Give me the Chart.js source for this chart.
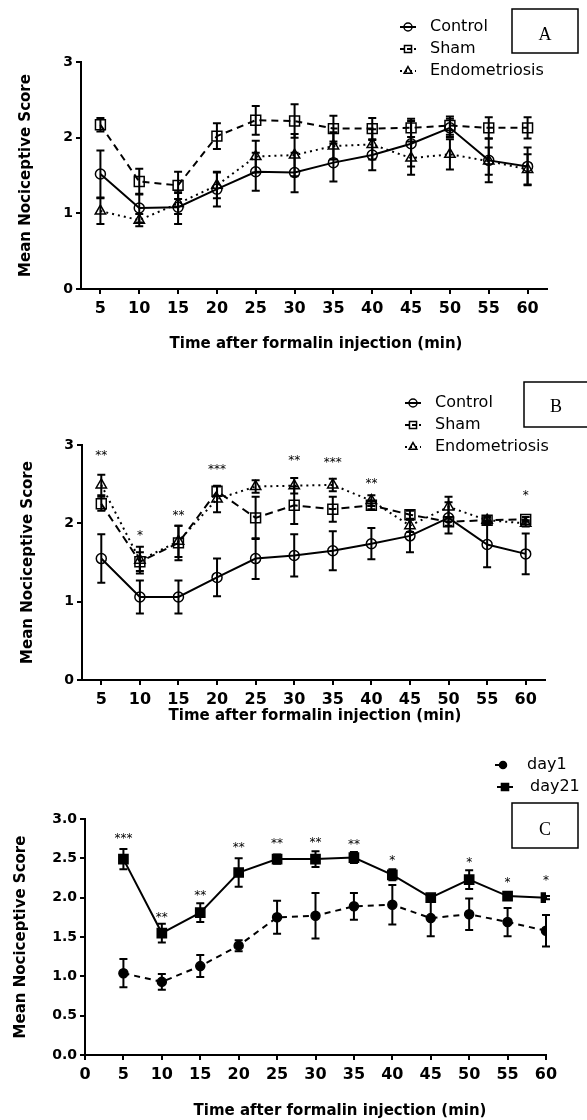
<!DOCTYPE html>
<html>
<head>
<meta charset="utf-8">
<script src="https://cdn.jsdelivr.net/npm/chart.js@4.4.1/dist/chart.umd.min.js"></script>
<style>
  html, body { margin: 0; padding: 0; background: #fff; }
  body { width: 587px; height: 1120px; position: relative; overflow: hidden; }
  .panel { position: absolute; left: 0; width: 587px; }
</style>
</head>
<body>
<div class="panel" style="top:0;height:360px"><canvas id="chartA" width="587" height="360"></canvas></div>
<div class="panel" style="top:360px;height:380px"><canvas id="chartB" width="587" height="380"></canvas></div>
<div class="panel" style="top:740px;height:380px"><canvas id="chartC" width="587" height="380"></canvas></div>
<script>
// time points (min)
const minuteLabels = ['5', '10', '15', '20', '25', '30', '35', '40', '45', '50', '55', '60'];
const minutes = [5, 10, 15, 20, 25, 30, 35, 40, 45, 50, 55, 60];

// panel A
const aControl = [1.52, 1.07, 1.08, 1.32, 1.55, 1.54, 1.67, 1.77, 1.92, 2.13, 1.70, 1.62];
const aControlSem = [0.31, 0.19, 0.22, 0.23, 0.25, 0.26, 0.25, 0.20, 0.30, 0.12, 0.29, 0.25];
const aSham = [2.17, 1.42, 1.37, 2.02, 2.23, 2.22, 2.12, 2.12, 2.13, 2.16, 2.13, 2.13];
const aShamSem = [0.09, 0.17, 0.18, 0.17, 0.19, 0.22, 0.17, 0.14, 0.12, 0.12, 0.14, 0.14];
const aEndo = [1.03, 0.91, 1.13, 1.37, 1.75, 1.77, 1.89, 1.91, 1.73, 1.78, 1.69, 1.58];
const aEndoSem = [0.17, 0.08, 0.14, 0.17, 0.21, 0.28, 0.18, 0.20, 0.22, 0.20, 0.18, 0.20];

// panel B
const bControl = [1.55, 1.06, 1.06, 1.31, 1.55, 1.59, 1.65, 1.74, 1.84, 2.07, 1.73, 1.61];
const bControlSem = [0.31, 0.21, 0.21, 0.24, 0.26, 0.27, 0.25, 0.20, 0.21, 0.20, 0.29, 0.26];
const bSham = [2.25, 1.51, 1.75, 2.41, 2.07, 2.23, 2.18, 2.23, 2.11, 2.02, 2.04, 2.05];
const bShamSem = [0.09, 0.12, 0.22, 0.06, 0.27, 0.24, 0.16, 0.05, 0.05, 0.05, 0.03, 0.03];
const bEndo = [2.49, 1.53, 1.77, 2.31, 2.47, 2.48, 2.49, 2.29, 1.97, 2.21, 2.04, 2.00];
const bEndoSem = [0.13, 0.17, 0.20, 0.17, 0.08, 0.10, 0.08, 0.07, 0.08, 0.13, 0.05, 0.04];
const bStarAt = ['5', '10', '15', '20', '30', '35', '40', '60'];
const bStarText = ['**', '*', '**', '***', '**', '***', '**', '*'];
const bStarY = [2.91, 1.89, 2.15, 2.73, 2.85, 2.82, 2.55, 2.40];

// panel C
const cDay1 = [1.04, 0.93, 1.13, 1.39, 1.75, 1.77, 1.89, 1.91, 1.74, 1.79, 1.69, 1.58];
const cDay1Sem = [0.18, 0.10, 0.14, 0.07, 0.21, 0.29, 0.17, 0.25, 0.23, 0.20, 0.18, 0.20];
const cDay21 = [2.49, 1.55, 1.81, 2.32, 2.49, 2.49, 2.51, 2.29, 2.00, 2.23, 2.02, 2.00];
const cDay21Sem = [0.13, 0.12, 0.12, 0.18, 0.06, 0.10, 0.07, 0.07, 0.02, 0.12, 0.02, 0.02];
const cStarAt = [5, 10, 15, 20, 25, 30, 35, 40, 50, 55, 60];
const cStarText = ['***', '**', '**', '**', '**', '**', '**', '*', '*', '*', '*'];
const cStarY = [2.80, 1.79, 2.07, 2.68, 2.73, 2.74, 2.72, 2.52, 2.49, 2.24, 2.26];

const FONT = 'DejaVu Sans';
const xTitleText = 'Time after formalin injection (min)';
const yTitleText = 'Mean Nociceptive Score';

Chart.defaults.font.family = FONT;
Chart.defaults.color = '#000';

// error bars, stars, legend, panel letter box and x title
const extras = {
  id: 'extras',
  beforeDatasetsDraw(chart) {
    const ctx = chart.ctx;
    const ys = chart.scales.y;
    chart.data.datasets.forEach((ds, di) => {
      if (!ds.sem) return;
      const meta = chart.getDatasetMeta(di);
      ctx.save();
      ctx.strokeStyle = '#000';
      ctx.lineWidth = 2;
      ctx.setLineDash([]);
      meta.data.forEach((pt, i) => {
        const raw = ds.data[i];
        const v = typeof raw === 'object' ? raw.y : raw;
        const top = ys.getPixelForValue(v + ds.sem[i]);
        const bot = ys.getPixelForValue(v - ds.sem[i]);
        ctx.beginPath();
        ctx.moveTo(pt.x, top); ctx.lineTo(pt.x, bot);
        ctx.moveTo(pt.x - 4, top); ctx.lineTo(pt.x + 4, top);
        ctx.moveTo(pt.x - 4, bot); ctx.lineTo(pt.x + 4, bot);
        ctx.stroke();
      });
      ctx.restore();
    });
  },
  afterDraw(chart, args, o) {
    const ctx = chart.ctx;
    const xs = chart.scales.x, ys = chart.scales.y;
    ctx.save();
    ctx.fillStyle = '#000';

    // significance stars
    if (o.stars) {
      ctx.font = '12px "' + FONT + '"';
      ctx.textAlign = 'center';
      ctx.textBaseline = 'alphabetic';
      o.stars.at.forEach((t, i) => {
        ctx.fillText(o.stars.text[i], xs.getPixelForValue(t), ys.getPixelForValue(o.stars.y[i]) + 7);
      });
    }

    // legend
    o.legend.forEach(it => {
      ctx.save();
      ctx.strokeStyle = '#000';
      ctx.lineWidth = 2;
      ctx.setLineDash(it.dash);
      ctx.beginPath();
      ctx.moveTo(it.x - 8, it.y); ctx.lineTo(it.x + 8, it.y);
      ctx.stroke();
      ctx.setLineDash([]);
      ctx.fillStyle = it.filled ? '#000' : 'rgba(0,0,0,0)';
      ctx.lineWidth = 1.5;
      Chart.helpers.drawPoint(ctx, { pointStyle: it.style, radius: it.r, borderWidth: 1.5, rotation: 0 }, it.x, it.y);
      ctx.restore();
      ctx.font = '16px "' + FONT + '"';
      ctx.textAlign = 'left';
      ctx.textBaseline = 'middle';
      ctx.fillText(it.text, it.tx, it.y);
    });

    // panel letter box
    const b = o.box;
    ctx.strokeStyle = '#000';
    ctx.lineWidth = 1.5;
    ctx.strokeRect(b.x, b.y, b.w, b.h);
    ctx.font = '18px "Liberation Serif"';
    ctx.textAlign = 'center';
    ctx.textBaseline = 'alphabetic';
    ctx.fillText(b.text, b.lx, b.ly);

    // x axis title
    ctx.font = 'bold 15px "' + FONT + '"';
    ctx.textAlign = 'center';
    ctx.textBaseline = 'alphabetic';
    ctx.fillText(xTitleText, o.xTitle.x, o.xTitle.y);
    ctx.restore();
  }
};

function yAxis(max, step, width, titlePad, decimals) {
  return {
    min: 0,
    max: max,
    ticks: {
      stepSize: step,
      padding: 3,
      color: '#000',
      font: { family: FONT, weight: 'bold', size: 14 },
      callback: v => v.toFixed(decimals)
    },
    grid: { drawOnChartArea: false, drawTicks: true, tickLength: 5, color: '#000', lineWidth: 2 },
    border: { display: true, color: '#000', width: 2 },
    title: {
      display: true,
      text: yTitleText,
      color: '#000',
      font: { family: FONT, weight: 'bold', size: 15 },
      padding: { top: titlePad, bottom: 0 }
    },
    afterFit: s => { s.width = width; }
  };
}

function xAxis(height, linear) {
  const ax = {
    ticks: {
      padding: 5,
      autoSkip: false,
      maxRotation: 0,
      color: '#000',
      font: { family: FONT, weight: 'bold', size: 16 }
    },
    grid: { drawOnChartArea: false, drawTicks: true, tickLength: 5, color: '#000', lineWidth: 2, offset: false },
    border: { display: true, color: '#000', width: 2 },
    afterFit: s => { s.height = height; }
  };
  if (linear) {
    ax.type = 'linear';
    ax.min = 0;
    ax.max = 60;
    ax.ticks.stepSize = 5;
  } else {
    ax.type = 'category';
    ax.offset = true;
  }
  return ax;
}

function lineSet(label, data, sem, dash, style, r, filled) {
  return {
    label: label,
    data: data,
    sem: sem,
    borderColor: '#000',
    borderWidth: 2,
    borderDash: dash,
    fill: false,
    tension: 0,
    pointStyle: style,
    pointRadius: r,
    pointBorderWidth: 1.5,
    pointBorderColor: '#000',
    pointBackgroundColor: filled ? '#000' : 'rgba(0,0,0,0)'
  };
}

function baseOptions(padding, yA, xA, extra) {
  return {
    responsive: false,
    animation: false,
    devicePixelRatio: 1,
    events: [],
    layout: { padding: padding },
    scales: { x: xA, y: yA },
    plugins: { legend: { display: false }, tooltip: { enabled: false }, extras: extra }
  };
}

// panel A
new Chart(document.getElementById('chartA'), {
  type: 'line',
  data: {
    labels: minuteLabels,
    datasets: [
      lineSet('Control', aControl, aControlSem, [], 'circle', 5, false),
      lineSet('Sham', aSham, aShamSem, [7, 5], 'rect', 7, false),
      lineSet('Endometriosis', aEndo, aEndoSem, [2, 4], 'triangle', 6, false)
    ]
  },
  options: baseOptions({ top: 62, right: 40, bottom: 0, left: 0 }, yAxis(3, 1, 81, 17, 0), xAxis(71, false), {
    legend: [
      { text: 'Control', x: 408, tx: 430, y: 27, dash: [], style: 'circle', r: 4, filled: false },
      { text: 'Sham', x: 408, tx: 430, y: 49, dash: [4, 3], style: 'rect', r: 5, filled: false },
      { text: 'Endometriosis', x: 408, tx: 430, y: 71, dash: [2, 3], style: 'triangle', r: 4.5, filled: false }
    ],
    box: { x: 512, y: 9, w: 66, h: 44, text: 'A', lx: 545, ly: 40 },
    xTitle: { x: 316, y: 348 }
  }),
  plugins: [extras]
});

// panel B
new Chart(document.getElementById('chartB'), {
  type: 'line',
  data: {
    labels: minuteLabels,
    datasets: [
      lineSet('Control', bControl, bControlSem, [], 'circle', 5, false),
      lineSet('Sham', bSham, bShamSem, [8, 5], 'rect', 7, false),
      lineSet('Endometriosis', bEndo, bEndoSem, [2, 4], 'triangle', 6, false)
    ]
  },
  options: baseOptions({ top: 85, right: 42, bottom: 0, left: 0 }, yAxis(3, 1, 82, 19, 0), xAxis(60, false), {
    stars: { at: bStarAt, text: bStarText, y: bStarY },
    legend: [
      { text: 'Control', x: 413, tx: 435, y: 43, dash: [], style: 'circle', r: 4, filled: false },
      { text: 'Sham', x: 413, tx: 435, y: 65, dash: [4, 3], style: 'rect', r: 5, filled: false },
      { text: 'Endometriosis', x: 413, tx: 435, y: 87, dash: [2, 3], style: 'triangle', r: 4.5, filled: false }
    ],
    box: { x: 524, y: 22, w: 70, h: 45, text: 'B', lx: 556, ly: 52 },
    xTitle: { x: 315, y: 360 }
  }),
  plugins: [extras]
});

// panel C
new Chart(document.getElementById('chartC'), {
  type: 'line',
  data: {
    datasets: [
      lineSet('day1', minutes.map((m, i) => ({ x: m, y: cDay1[i] })), cDay1Sem, [6, 5], 'circle', 4.5, true),
      lineSet('day21', minutes.map((m, i) => ({ x: m, y: cDay21[i] })), cDay21Sem, [], 'rect', 6.5, true)
    ]
  },
  options: baseOptions({ top: 79, right: 41, bottom: 0, left: 0 }, yAxis(3, 0.5, 85, 12, 1), xAxis(65, true), {
    stars: { at: cStarAt, text: cStarText, y: cStarY },
    legend: [
      { text: 'day1', x: 503, tx: 527, y: 25, dash: [4, 4], style: 'circle', r: 3.5, filled: true },
      { text: 'day21', x: 505, tx: 530, y: 47, dash: [], style: 'rect', r: 5, filled: true }
    ],
    box: { x: 512, y: 63, w: 66, h: 45, text: 'C', lx: 545, ly: 95 },
    xTitle: { x: 340, y: 375 }
  }),
  plugins: [extras]
});
</script>
</body>
</html>
